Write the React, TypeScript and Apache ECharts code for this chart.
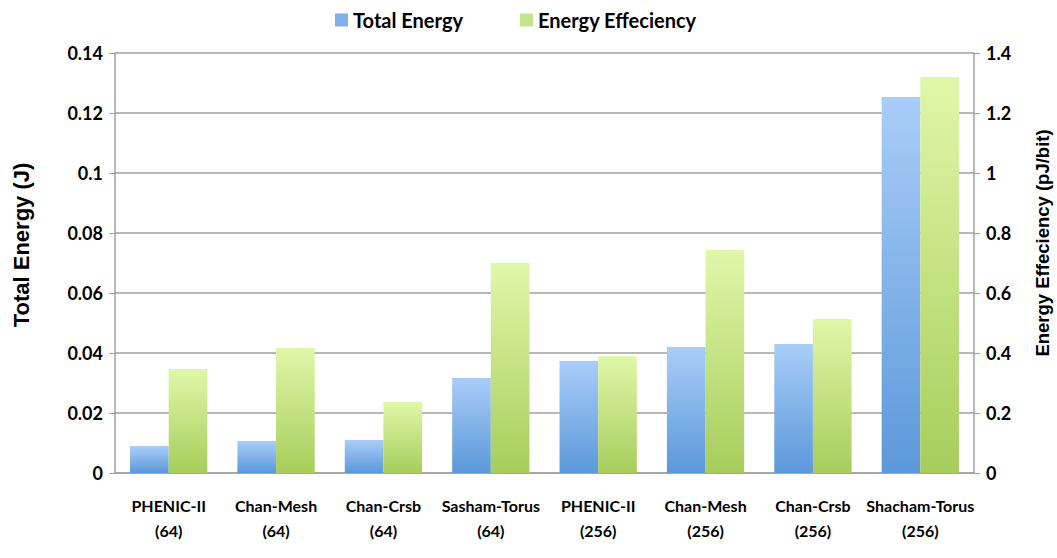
import React, { useEffect, useRef } from "react";
import * as echarts from "echarts";

const categories = [
  "PHENIC-II\n(64)",
  "Chan-Mesh\n(64)",
  "Chan-Crsb\n(64)",
  "Sasham-Torus\n(64)",
  "PHENIC-II\n(256)",
  "Chan-Mesh\n(256)",
  "Chan-Crsb\n(256)",
  "Shacham-Torus\n(256)",
];
const totalEnergy = [0.009, 0.0107, 0.011, 0.0317, 0.0373, 0.042, 0.043, 0.1253];
const energyEfficiency = [0.347, 0.417, 0.237, 0.7, 0.39, 0.743, 0.513, 1.32];

const seriesNames = ["Total Energy", "Energy Effeciency"];
const leftAxisName = "Total Energy (J)";
const rightAxisName = "Energy Effeciency (pJ/bit)";

export default function App() {
  const ref = useRef<HTMLDivElement>(null);
  useEffect(() => {
    if (!ref.current) return;
    const chart = echarts.init(ref.current, null, { renderer: "svg" });
    const font = "Lato";
    const blue = new echarts.graphic.LinearGradient(0, 0, 0, 1, [
      { offset: 0, color: "#a9cdf8" },
      { offset: 1, color: "#5c98da" },
    ]);
    const green = new echarts.graphic.LinearGradient(0, 0, 0, 1, [
      { offset: 0, color: "#e0f7a9" },
      { offset: 1, color: "#a7cd5c" },
    ]);
    chart.setOption({
      animation: false,
      backgroundColor: "#ffffff",
      grid: { left: 115, right: 83, top: 53, bottom: 85 },
      legend: {
        top: 5,
        left: 330,
        itemWidth: 13,
        itemHeight: 13,
        itemGap: 57,
        icon: "rect",
        textStyle: { fontFamily: font, fontWeight: "bold", fontSize: 20, color: "#000" },
        data: [
          { name: seriesNames[0], itemStyle: { color: "#7fb0ea" } },
          { name: seriesNames[1], itemStyle: { color: "#c4e58a" } },
        ],
      },
      graphic: [
        {
          type: "text",
          x: 21,
          y: 245,
          rotation: Math.PI / 2,
          style: {
            text: leftAxisName,
            align: "center",
            verticalAlign: "middle",
            fontFamily: "Liberation Sans",
            fontWeight: "bold",
            fontSize: 22,
            fill: "#000",
          },
        },
        {
          type: "text",
          x: 1042,
          y: 243,
          rotation: Math.PI / 2,
          style: {
            text: rightAxisName,
            align: "center",
            verticalAlign: "middle",
            fontFamily: "Liberation Sans",
            fontWeight: "bold",
            fontSize: 18.5,
            fill: "#000",
          },
        },
      ],
      xAxis: {
        type: "category",
        data: categories,
        axisLine: { show: true, lineStyle: { color: "#a0a0a0", width: 1.5 } },
        axisTick: { show: false },
        axisLabel: {
          margin: 20,
          fontFamily: font,
          fontWeight: "bold",
          fontSize: 16,
          color: "#000",
          lineHeight: 25,
          interval: 0,
        },
      },
      yAxis: [
        {
          type: "value",
          min: 0,
          max: 0.14,
          interval: 0.02,
          axisLine: { show: true, lineStyle: { color: "#a0a0a0", width: 1.5 } },
          axisTick: { show: true, length: 6, lineStyle: { color: "#a0a0a0" } },
          axisLabel: { margin: 12, fontFamily: font, fontWeight: "bold", fontSize: 18, color: "#000" },
          splitLine: { show: true, lineStyle: { color: "#a0a0a0", width: 1.5 } },
        },
        {
          type: "value",
          min: 0,
          max: 1.4,
          interval: 0.2,
          axisLine: { show: true, lineStyle: { color: "#a0a0a0", width: 1.5 } },
          axisTick: { show: true, length: 6, lineStyle: { color: "#a0a0a0" } },
          axisLabel: { margin: 12, fontFamily: font, fontWeight: "bold", fontSize: 18, color: "#000" },
          splitLine: { show: false },
        },
      ],
      series: [
        {
          name: seriesNames[0],
          type: "bar",
          yAxisIndex: 0,
          data: totalEnergy,
          barGap: "0%",
          barCategoryGap: "28%",
          itemStyle: { color: blue },
        },
        {
          name: seriesNames[1],
          type: "bar",
          yAxisIndex: 1,
          data: energyEfficiency,
          barGap: "0%",
          barCategoryGap: "28%",
          itemStyle: { color: green },
        },
      ],
    });
    return () => chart.dispose();
  }, []);
  return (
    <div
      ref={ref}
      style={{ position: "fixed", left: 0, top: 0, width: 1057, height: 558 }}
    />
  );
}
